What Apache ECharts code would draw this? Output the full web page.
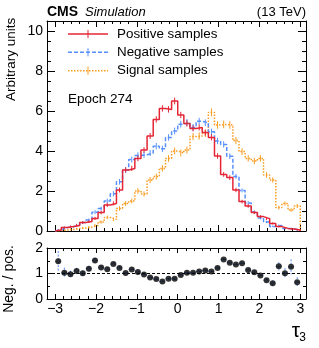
<!DOCTYPE html>
<html><head><meta charset="utf-8">
<script src="https://cdn.jsdelivr.net/npm/echarts@6/dist/echarts.min.js"></script>
<style>html,body{margin:0;padding:0;background:#fff}#c{width:319px;height:348px}</style>
</head><body><div id="c"></div>
<script>
const binEdges = [-3.00,-2.85,-2.70,-2.55,-2.40,-2.25,-2.10,-1.95,-1.80,-1.65,-1.50,-1.35,-1.20,-1.05,-0.90,-0.75,-0.60,-0.45,-0.30,-0.15,0.00,0.15,0.30,0.45,0.60,0.75,0.90,1.05,1.20,1.35,1.50,1.65,1.80,1.95,2.10,2.25,2.40,2.55,2.70,2.85,3.00];
const positive = [0.05,0.17,0.22,0.28,0.42,0.47,0.63,0.92,1.30,1.38,2.05,3.05,3.13,3.63,4.05,4.75,5.58,6.13,6.08,6.50,5.80,5.38,5.13,5.18,4.92,4.68,3.75,2.83,2.67,2.05,1.47,1.25,0.92,0.72,0.62,0.38,0.22,0.13,0.10,0.05];
const negative = [0.07,0.17,0.21,0.30,0.42,0.55,0.94,1.12,1.50,1.86,2.46,3.05,3.57,3.78,3.81,3.90,4.24,4.11,4.68,5.00,5.34,5.43,5.18,5.49,5.41,4.96,4.50,4.33,3.74,2.73,2.03,1.40,0.95,0.65,0.45,0.23,0.28,0.13,0.12,0.03];
const signal = [0.02,0.05,0.08,0.12,0.15,0.20,0.28,0.45,0.68,0.58,1.13,1.37,1.50,2.00,1.85,2.55,2.72,3.13,3.63,4.00,3.90,4.05,4.72,4.75,4.88,5.93,5.30,5.33,5.30,4.52,3.97,3.63,3.50,3.63,2.80,2.55,1.17,1.37,1.05,1.25];
const positiveErr = [0.03,0.05,0.05,0.06,0.07,0.07,0.08,0.09,0.10,0.10,0.12,0.13,0.13,0.14,0.14,0.15,0.16,0.16,0.16,0.17,0.16,0.16,0.15,0.15,0.15,0.15,0.14,0.12,0.12,0.11,0.09,0.09,0.08,0.07,0.07,0.05,0.04,0.04,0.03,0.02];
const negativeErr = [0.03,0.05,0.05,0.06,0.07,0.08,0.10,0.10,0.12,0.13,0.14,0.15,0.15,0.15,0.15,0.15,0.16,0.16,0.16,0.17,0.17,0.17,0.17,0.17,0.17,0.16,0.16,0.16,0.14,0.12,0.10,0.09,0.08,0.07,0.06,0.04,0.05,0.03,0.03,0.02];
const signalErr = [0.02,0.03,0.04,0.04,0.05,0.06,0.07,0.08,0.09,0.09,0.11,0.12,0.12,0.14,0.13,0.15,0.15,0.16,0.17,0.17,0.17,0.17,0.18,0.18,0.18,0.20,0.19,0.19,0.19,0.18,0.17,0.16,0.16,0.16,0.14,0.13,0.09,0.10,0.09,0.10];
const ratio = [1.48,1.03,0.97,1.10,1.01,1.19,1.51,1.24,1.17,1.37,1.22,1.02,1.16,1.06,0.96,0.84,0.78,0.69,0.79,0.79,0.94,1.03,1.03,1.08,1.12,1.08,1.22,1.55,1.42,1.35,1.40,1.14,1.05,0.92,0.74,0.62,1.28,1.01,1.26,0.66];
const ratioErr = [0.40,0.20,0.14,0.12,0.10,0.10,0.10,0.08,0.07,0.07,0.06,0.05,0.05,0.05,0.05,0.04,0.04,0.04,0.04,0.04,0.04,0.04,0.04,0.04,0.04,0.04,0.05,0.05,0.05,0.05,0.06,0.06,0.07,0.07,0.08,0.10,0.16,0.20,0.30,0.20];
const xMajorTicks = [-3,-2,-1,0,1,2,3];
const xMinorTicks = [-2.8,-2.6,-2.4,-2.2,-1.8,-1.6,-1.4,-1.2,-0.8,-0.6,-0.4,-0.2,0.2,0.4,0.6,0.8,1.2,1.4,1.6,1.8,2.2,2.4,2.6,2.8];
const yMainMajorTicks = [0,2,4,6,8,10];
const yMainMinorTicks = [0.5,1,1.5,2.5,3,3.5,4.5,5,5.5,6.5,7,7.5,8.5,9,9.5];
const yRatioMajorTicks = [0,1,2];
const yRatioMinorTicks = [0.5,1.5];
const seriesNames = ['Positive samples','Negative samples','Signal samples'];
const colors = ['#e42536','#5790fc','#f89c20'];

const FONT = '"Liberation Sans", Arial, sans-serif';
const X_MIN = -3.2, X_MAX = 3.14;
const fmt = v => (v < 0 ? '\u2212' + (-v) : String(v));

function xAx(grid, pos, ticks, len, opts) {
  opts = opts || {};
  return {
    type: 'value', gridIndex: grid, position: pos, min: X_MIN, max: X_MAX,
    axisLine: {show: !!opts.line, onZero: false, lineStyle: {color: '#000', width: 1}},
    axisTick: {show: true, inside: true, length: len, customValues: ticks, lineStyle: {color: '#000', width: 1}},
    axisLabel: opts.labels ? {show: true, customValues: ticks, formatter: fmt, fontFamily: FONT, fontSize: 14, color: '#000', margin: 3} : {show: false},
    splitLine: {show: false}
  };
}
function yAx(grid, pos, min, max, ticks, len, opts) {
  opts = opts || {};
  return {
    type: 'value', gridIndex: grid, position: pos, min: min, max: max,
    axisLine: {show: !!opts.line, onZero: false, lineStyle: {color: '#000', width: 1}},
    axisTick: {show: true, inside: true, length: len, customValues: ticks, lineStyle: {color: '#000', width: 1}},
    axisLabel: opts.labels ? {show: true, customValues: ticks, formatter: fmt, fontFamily: FONT, fontSize: 14, color: '#000', margin: 4} : {show: false},
    splitLine: {show: false}
  };
}

function stepData(vals) {
  const n = vals.length;
  const d = [[binEdges[0], 0]];
  for (let i = 0; i < n; i++) d.push([binEdges[i], vals[i]]);
  d.push([binEdges[n], vals[n - 1]]);
  d.push([binEdges[n], 0]);
  return d;
}
function centers() {
  const c = [];
  for (let i = 0; i < binEdges.length - 1; i++) c.push((binEdges[i] + binEdges[i + 1]) / 2);
  return c;
}
const binCenters = centers();

function errSeries(vals, errs, color, xi, yi, horiz, dash, z) {
  const data = vals.map((v, i) => [binCenters[i], v, errs[i], binEdges[i], binEdges[i + 1]]);
  return {
    type: 'custom', xAxisIndex: xi, yAxisIndex: yi, data: data, clip: true, silent: true, z: z || 3,
    encode: {x: 0, y: 1},
    renderItem: function (params, api) {
      const x = api.value(0), y = api.value(1), e = api.value(2);
      const t = api.coord([x, y + e]), b = api.coord([x, y - e]);
      const st = {stroke: color, lineWidth: 1, lineDash: dash || null};
      const ch = [{type: 'line', shape: {x1: t[0], y1: t[1], x2: b[0], y2: b[1]}, style: st}];
      if (horiz) {
        const l = api.coord([api.value(3), y]), r = api.coord([api.value(4), y]);
        ch.push({type: 'line', shape: {x1: l[0], y1: l[1], x2: r[0], y2: r[1]}, style: st});
      }
      return {type: 'group', children: ch};
    }
  };
}
function histSeries(vals, color, type, width, z) {
  return {
    type: 'line', xAxisIndex: 0, yAxisIndex: 0, step: 'end', data: stepData(vals),
    showSymbol: false, symbol: 'none', silent: true, z: z, clip: true,
    lineStyle: {color: color, width: width, type: type}, animation: false
  };
}

const chart = echarts.init(document.getElementById('c'), null, {renderer: 'canvas'});
const legendRows = [34, 52.3, 70.7];
const legendDash = ['solid', [4, 2], [1.5, 1.5]];
const graphics = [];
seriesNames.forEach((name, i) => {
  const y = legendRows[i];
  graphics.push({type: 'line', shape: {x1: 68, y1: y, x2: 108, y2: y}, style: {stroke: colors[i], lineWidth: 1.5, lineDash: legendDash[i] === 'solid' ? null : legendDash[i]}});
  graphics.push({type: 'line', shape: {x1: 88, y1: y - 4, x2: 88, y2: y + 4}, style: {stroke: colors[i], lineWidth: 1}});
  graphics.push({type: 'text', x: 117, y: y, style: {text: name, font: '13.4px ' + FONT, fill: '#000', verticalAlign: 'middle', align: 'left'}});
});
graphics.push({type: 'text', x: 47, y: 12, style: {text: 'CMS', font: 'bold 14px ' + FONT, fill: '#000', verticalAlign: 'middle'}});
graphics.push({type: 'text', x: 85, y: 12.3, style: {text: 'Simulation', font: 'italic 13px ' + FONT, fill: '#000', verticalAlign: 'middle'}});
graphics.push({type: 'text', x: 306, y: 12.3, style: {text: '(13 TeV)', font: '13px ' + FONT, fill: '#000', verticalAlign: 'middle', align: 'right'}});
graphics.push({type: 'text', x: 68, y: 99, style: {text: 'Epoch 274', font: '13.5px ' + FONT, fill: '#000', verticalAlign: 'middle'}});
graphics.push({type: 'text', x: 11, y: 101, rotation: Math.PI / 2, style: {text: 'Arbitrary units', font: '13.5px ' + FONT, fill: '#000', verticalAlign: 'middle', align: 'left'}});
graphics.push({type: 'text', x: 9.5, y: 279, rotation: Math.PI / 2, style: {text: 'Neg. / pos.', font: '14px ' + FONT, fill: '#000', verticalAlign: 'middle', align: 'center'}});
graphics.push({type: 'text', x: 296, y: 331.5, style: {text: '\u03c4', font: '21px ' + FONT, fill: '#000', verticalAlign: 'middle', align: 'center'}});
graphics.push({type: 'text', x: 302.5, y: 338, style: {text: '3', font: '12px ' + FONT, fill: '#000', verticalAlign: 'middle', align: 'center'}});

const option = {
  animation: false,
  backgroundColor: '#fff',
  grid: [
    {left: 47, width: 259, top: 21, height: 210, containLabel: false},
    {left: 47, width: 259, top: 248, height: 51, containLabel: false}
  ],
  xAxis: [
    xAx(0, 'bottom', xMajorTicks, 6, {line: true}),
    xAx(0, 'bottom', xMinorTicks, 3),
    xAx(0, 'top', xMajorTicks, 6, {line: true}),
    xAx(0, 'top', xMinorTicks, 3),
    xAx(1, 'bottom', xMajorTicks, 5, {line: true, labels: true}),
    xAx(1, 'bottom', xMinorTicks, 3),
    xAx(1, 'top', xMajorTicks, 5, {line: true}),
    xAx(1, 'top', xMinorTicks, 3)
  ],
  yAxis: [
    yAx(0, 'left', 0, 10.5, yMainMajorTicks, 8, {line: true, labels: true}),
    yAx(0, 'left', 0, 10.5, yMainMinorTicks, 4),
    yAx(0, 'right', 0, 10.5, yMainMajorTicks, 8, {line: true}),
    yAx(0, 'right', 0, 10.5, yMainMinorTicks, 4),
    yAx(1, 'left', 0, 2, yRatioMajorTicks, 5, {line: true, labels: true}),
    yAx(1, 'left', 0, 2, yRatioMinorTicks, 3),
    yAx(1, 'right', 0, 2, yRatioMajorTicks, 5, {line: true}),
    yAx(1, 'right', 0, 2, yRatioMinorTicks, 3)
  ],
  graphic: graphics,
  series: [
    histSeries(signal, colors[2], [1.5, 1.5], 1.5, 2),
    histSeries(negative, colors[1], [4, 2], 1.5, 3),
    histSeries(positive, colors[0], 'solid', 1.5, 4),
    errSeries(signal, signalErr, colors[2], 0, 0, false, null, 2),
    errSeries(negative, negativeErr, colors[1], 0, 0, false, null, 3),
    errSeries(positive, positiveErr, colors[0], 0, 0, false, null, 4),
    {type: 'line', xAxisIndex: 4, yAxisIndex: 4, data: [[X_MIN, 1], [X_MAX, 1]], showSymbol: false, symbol: 'none', silent: true,
     lineStyle: {color: '#000', width: 1, type: [3, 2]}, z: 2},
    errSeries(ratio, ratioErr, colors[1], 4, 4, true, [2, 1.5], 3),
    {type: 'scatter', xAxisIndex: 4, yAxisIndex: 4, data: ratio.map((r, i) => [binCenters[i], r]), symbol: 'circle', symbolSize: 6,
     itemStyle: {color: '#000'}, silent: true, z: 5}
  ]
};
chart.setOption(option);
</script>
</body></html>
